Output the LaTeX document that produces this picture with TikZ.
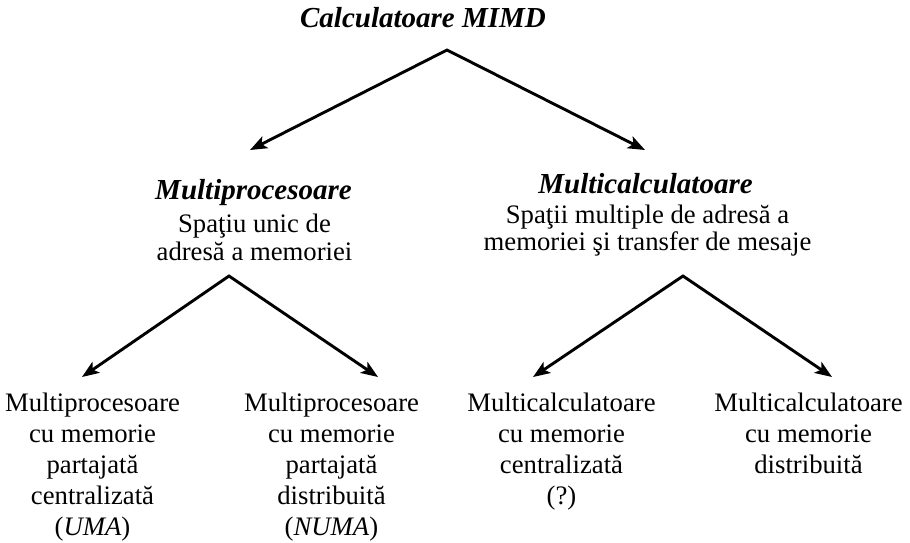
\documentclass[tikz,border=0pt]{standalone}
\usepackage{fontspec}
\setmainfont{Liberation Serif}
\usetikzlibrary{arrows.meta}
\begin{document}
\begin{tikzpicture}[x=1pt,y=-1pt,
  txt/.style={font=\fontsize{26.7}{31}\selectfont, align=center, anchor=base, inner sep=0pt},
  head/.style={font=\fontsize{29}{33}\selectfont\bfseries\itshape, inner sep=0pt, anchor=base},
  arr/.style={line width=2.9pt, line join=miter, {Stealth[length=17pt,width=13pt,inset=4pt]}-{Stealth[length=17pt,width=13pt,inset=4pt]}}]
\useasboundingbox (0,0) rectangle (910,542);
% anchor=base of a multi-line node is the baseline of its last line
\node[head] (root) at (423,27) {Calculatoare MIMD};
\node[head] (mp) at (253.5,199) {Multiprocesoare};
\node[txt, font=\fontsize{26.7}{28}\selectfont] (mpd) at (254.5,260) {Spaţiu unic de\\adresă a memoriei};
\node[head] (mc) at (645.5,193) {Multicalculatoare};
\node[txt, font=\fontsize{26.7}{27}\selectfont] (mcd) at (647.5,250) {Spaţii multiple de adresă a\\memoriei şi transfer de mesaje};
\node[txt] (ll) at (92.5,535.5) {Multiprocesoare\\cu memorie\\partajată\\centralizată\\(\textit{UMA})};
\node[txt] (lr) at (331.5,535.5) {Multiprocesoare\\cu memorie\\partajată\\distribuită\\(\textit{NUMA})};
\node[txt] (rl) at (561.5,504) {Multicalculatoare\\cu memorie\\centralizată\\(?)};
\node[txt] (rr) at (808.5,473.5) {Multicalculatoare\\cu memorie\\distribuită};
\coordinate (a0) at (447,50);
\coordinate (t0l) at (250,150);
\coordinate (t0r) at (645,150);
\coordinate (a1) at (229,276);
\coordinate (t1l) at (82,377);
\coordinate (t1r) at (378,377);
\coordinate (a2) at (683,276);
\coordinate (t2l) at (533,377);
\coordinate (t2r) at (832,377);
\draw[arr] (t0l) -- (a0) -- (t0r);
\draw[arr] (t1l) -- (a1) -- (t1r);
\draw[arr] (t2l) -- (a2) -- (t2r);
\end{tikzpicture}
\end{document}
